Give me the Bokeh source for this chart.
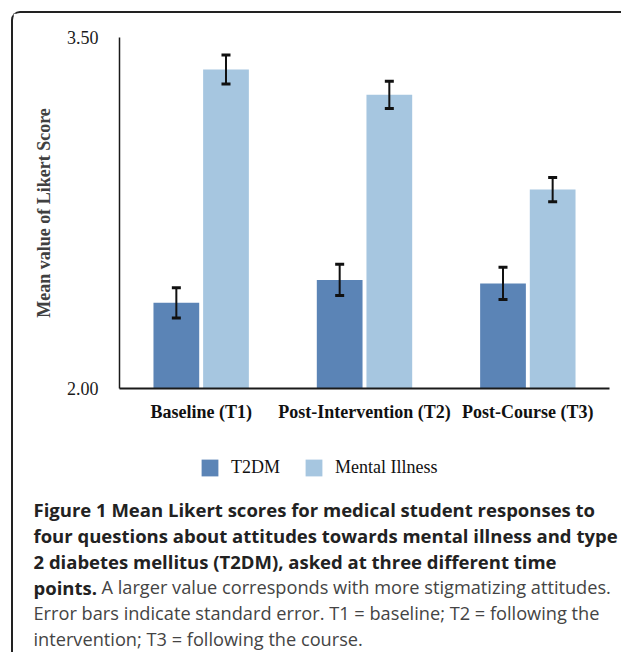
from bokeh.plotting import figure
from bokeh.layouts import column
from bokeh.models import (ColumnDataSource, FactorRange, Range1d, FixedTicker, Whisker, TeeHead,
                          Legend, LegendItem, NumeralTickFormatter)
from bokeh.core.properties import value
from bokeh.transform import dodge
from bokeh.embed import file_html
from bokeh.resources import INLINE

# ---------------- data ----------------
categories = ["Baseline (T1)", "Post-Intervention (T2)", "Post-Course (T3)"]
series_names = ["T2DM", "Mental Illness"]
t2dm_mean = [2.366, 2.464, 2.449]
t2dm_se = [0.065, 0.067, 0.069]
mental_mean = [3.363, 3.255, 2.850]
mental_se = [0.062, 0.058, 0.052]
y_ticks = [2.0, 3.5]
y_title = "Mean value of Likert Score"
caption_bold_lines = [
    "Figure 1 Mean Likert scores for medical student responses to",
    "four questions about attitudes towards mental illness and type",
    "2 diabetes mellitus (T2DM), asked at three different time",
    "points.",
]
caption_regular_lines = [
    "A larger value corresponds with more stigmatizing attitudes.",
    "Error bars indicate standard error. T1 = baseline; T2 = following the",
    "intervention; T3 = following the course.",
]

# ---------------- layout constants (page px) ----------------
W, H = 621, 652
OX, OY = 13, 13                      # content origin inside the rounded border
FL, FR, FT, FB = 119, 609, 37, 388   # chart frame edges on the page
SPLIT = 445                          # page y where the legend/caption panel starts
SERIF = "Liberation Serif"
SANS = "Open Sans"
C_DARK = "#5B84B6"
C_LIGHT = "#A6C6E0"
INK = "#1a1a1a"
NAN = float("nan")

src = ColumnDataSource(dict(
    cat=categories,
    t2dm=t2dm_mean,
    t2dm_lo=[m - s for m, s in zip(t2dm_mean, t2dm_se)],
    t2dm_hi=[m + s for m, s in zip(t2dm_mean, t2dm_se)],
    mi=mental_mean,
    mi_lo=[m - s for m, s in zip(mental_mean, mental_se)],
    mi_hi=[m + s for m, s in zip(mental_mean, mental_se)],
))

# ---------------- chart ----------------
cw, ch = W - OX, SPLIT - OY
p = figure(width=cw, height=ch,
           x_range=FactorRange(factors=categories, range_padding=0),
           y_range=Range1d(y_ticks[0], y_ticks[-1]),
           output_backend="svg", toolbar_location=None,
           min_border_left=FL - OX, min_border_right=W - FR,
           min_border_top=FT - OY, min_border_bottom=SPLIT - FB)
p.frame_align = False
p.grid.visible = False
p.outline_line_color = None

p.yaxis.ticker = FixedTicker(ticks=y_ticks)
p.yaxis.formatter = NumeralTickFormatter(format="0.00")
p.yaxis.major_tick_line_color = None
p.yaxis.minor_tick_line_color = None
p.yaxis.axis_line_color = INK
p.yaxis.axis_line_width = 1.5
p.yaxis.major_label_text_font = SERIF
p.yaxis.major_label_text_font_size = "18px"
p.yaxis.major_label_text_color = INK
p.yaxis.major_label_standoff = 15
p.yaxis.axis_label = y_title
p.yaxis.axis_label_text_font = SERIF
p.yaxis.axis_label_text_font_style = "bold"
p.yaxis.axis_label_text_font_size = "18px"
p.yaxis.axis_label_text_color = "#404040"
p.yaxis.axis_label_standoff = 10

p.xaxis.major_tick_line_color = None
p.xaxis.minor_tick_line_color = None
p.xaxis.axis_line_color = INK
p.xaxis.axis_line_width = 2
p.xaxis.major_label_text_font = SERIF
p.xaxis.major_label_text_font_style = "bold"
p.xaxis.major_label_text_font_size = "18px"
p.xaxis.major_label_text_color = "#111111"
p.xaxis.major_label_standoff = 7

OFF = 0.152
BW = 0.28
p.vbar(x=dodge("cat", -OFF, range=p.x_range), top="t2dm", bottom=y_ticks[0], width=BW,
       source=src, fill_color=C_DARK, line_color=None)
p.vbar(x=dodge("cat", OFF, range=p.x_range), top="mi", bottom=y_ticks[0], width=BW,
       source=src, fill_color=C_LIGHT, line_color=None)

for base, lo, hi in [(-OFF, "t2dm_lo", "t2dm_hi"), (OFF, "mi_lo", "mi_hi")]:
    w = Whisker(source=src, base=dodge("cat", base, range=p.x_range), lower=lo, upper=hi,
                line_color="#111111", line_width=2, level="overlay",
                upper_head=TeeHead(size=9, line_width=3, line_color="#111111"),
                lower_head=TeeHead(size=9, line_width=3, line_color="#111111"))
    p.add_layout(w)

# ---------------- legend + caption panel (page-pixel coordinates) ----------------
bw, bh = W - OX, H - SPLIT
c = figure(width=bw, height=bh, x_range=Range1d(OX, W), y_range=Range1d(H, SPLIT),
           x_axis_type=None, y_axis_type=None, output_backend="svg", toolbar_location=None,
           min_border=0, min_border_left=0, min_border_right=0, min_border_top=0,
           min_border_bottom=0)
c.frame_align = False
c.grid.visible = False
c.outline_line_color = None

# legend swatch proxies (no drawn marks; they only carry the series colours)
k1 = c.vbar(x=[NAN], top=[NAN], width=0, fill_color=C_DARK, line_color=None)
k2 = c.vbar(x=[NAN], top=[NAN], width=0, fill_color=C_LIGHT, line_color=None)
GW = 21
legend = Legend(items=[LegendItem(label=series_names[0], renderers=[k1]),
                       LegendItem(label=series_names[1], renderers=[k2])],
                orientation="horizontal", location=(199 - OX, H - 457 - GW),
                glyph_width=GW, glyph_height=GW, label_height=GW, label_standoff=11, spacing=23,
                padding=0, margin=0, border_line_color=None, background_fill_alpha=0,
                label_text_font=SERIF, label_text_font_size="18px", label_text_color="#111111")
c.add_layout(legend, "center")

baselines = [508.5, 534.5, 560.5, 586.5, 612.5, 638.5]
c.text(x=[33] * len(caption_bold_lines), y=baselines[:len(caption_bold_lines)],
       text=caption_bold_lines, text_font=value(SANS), text_font_style="bold",
       text_font_size="18.5px", text_color="#222222", text_baseline="alphabetic")
c.text(x=[101, 33, 33], y=baselines[3:], text=caption_regular_lines,
       text_font=value(SANS), text_font_size="18.2px", text_color="#444444",
       text_baseline="alphabetic")

root = column(p, c, spacing=0,
              styles={"margin-left": "11px", "margin-top": "11px",
                      "border-left": "2px solid #222", "border-top": "2px solid #222",
                      "border-top-left-radius": "9px", "padding": "0px"})

open("out.html", "w").write(file_html(root, INLINE))
